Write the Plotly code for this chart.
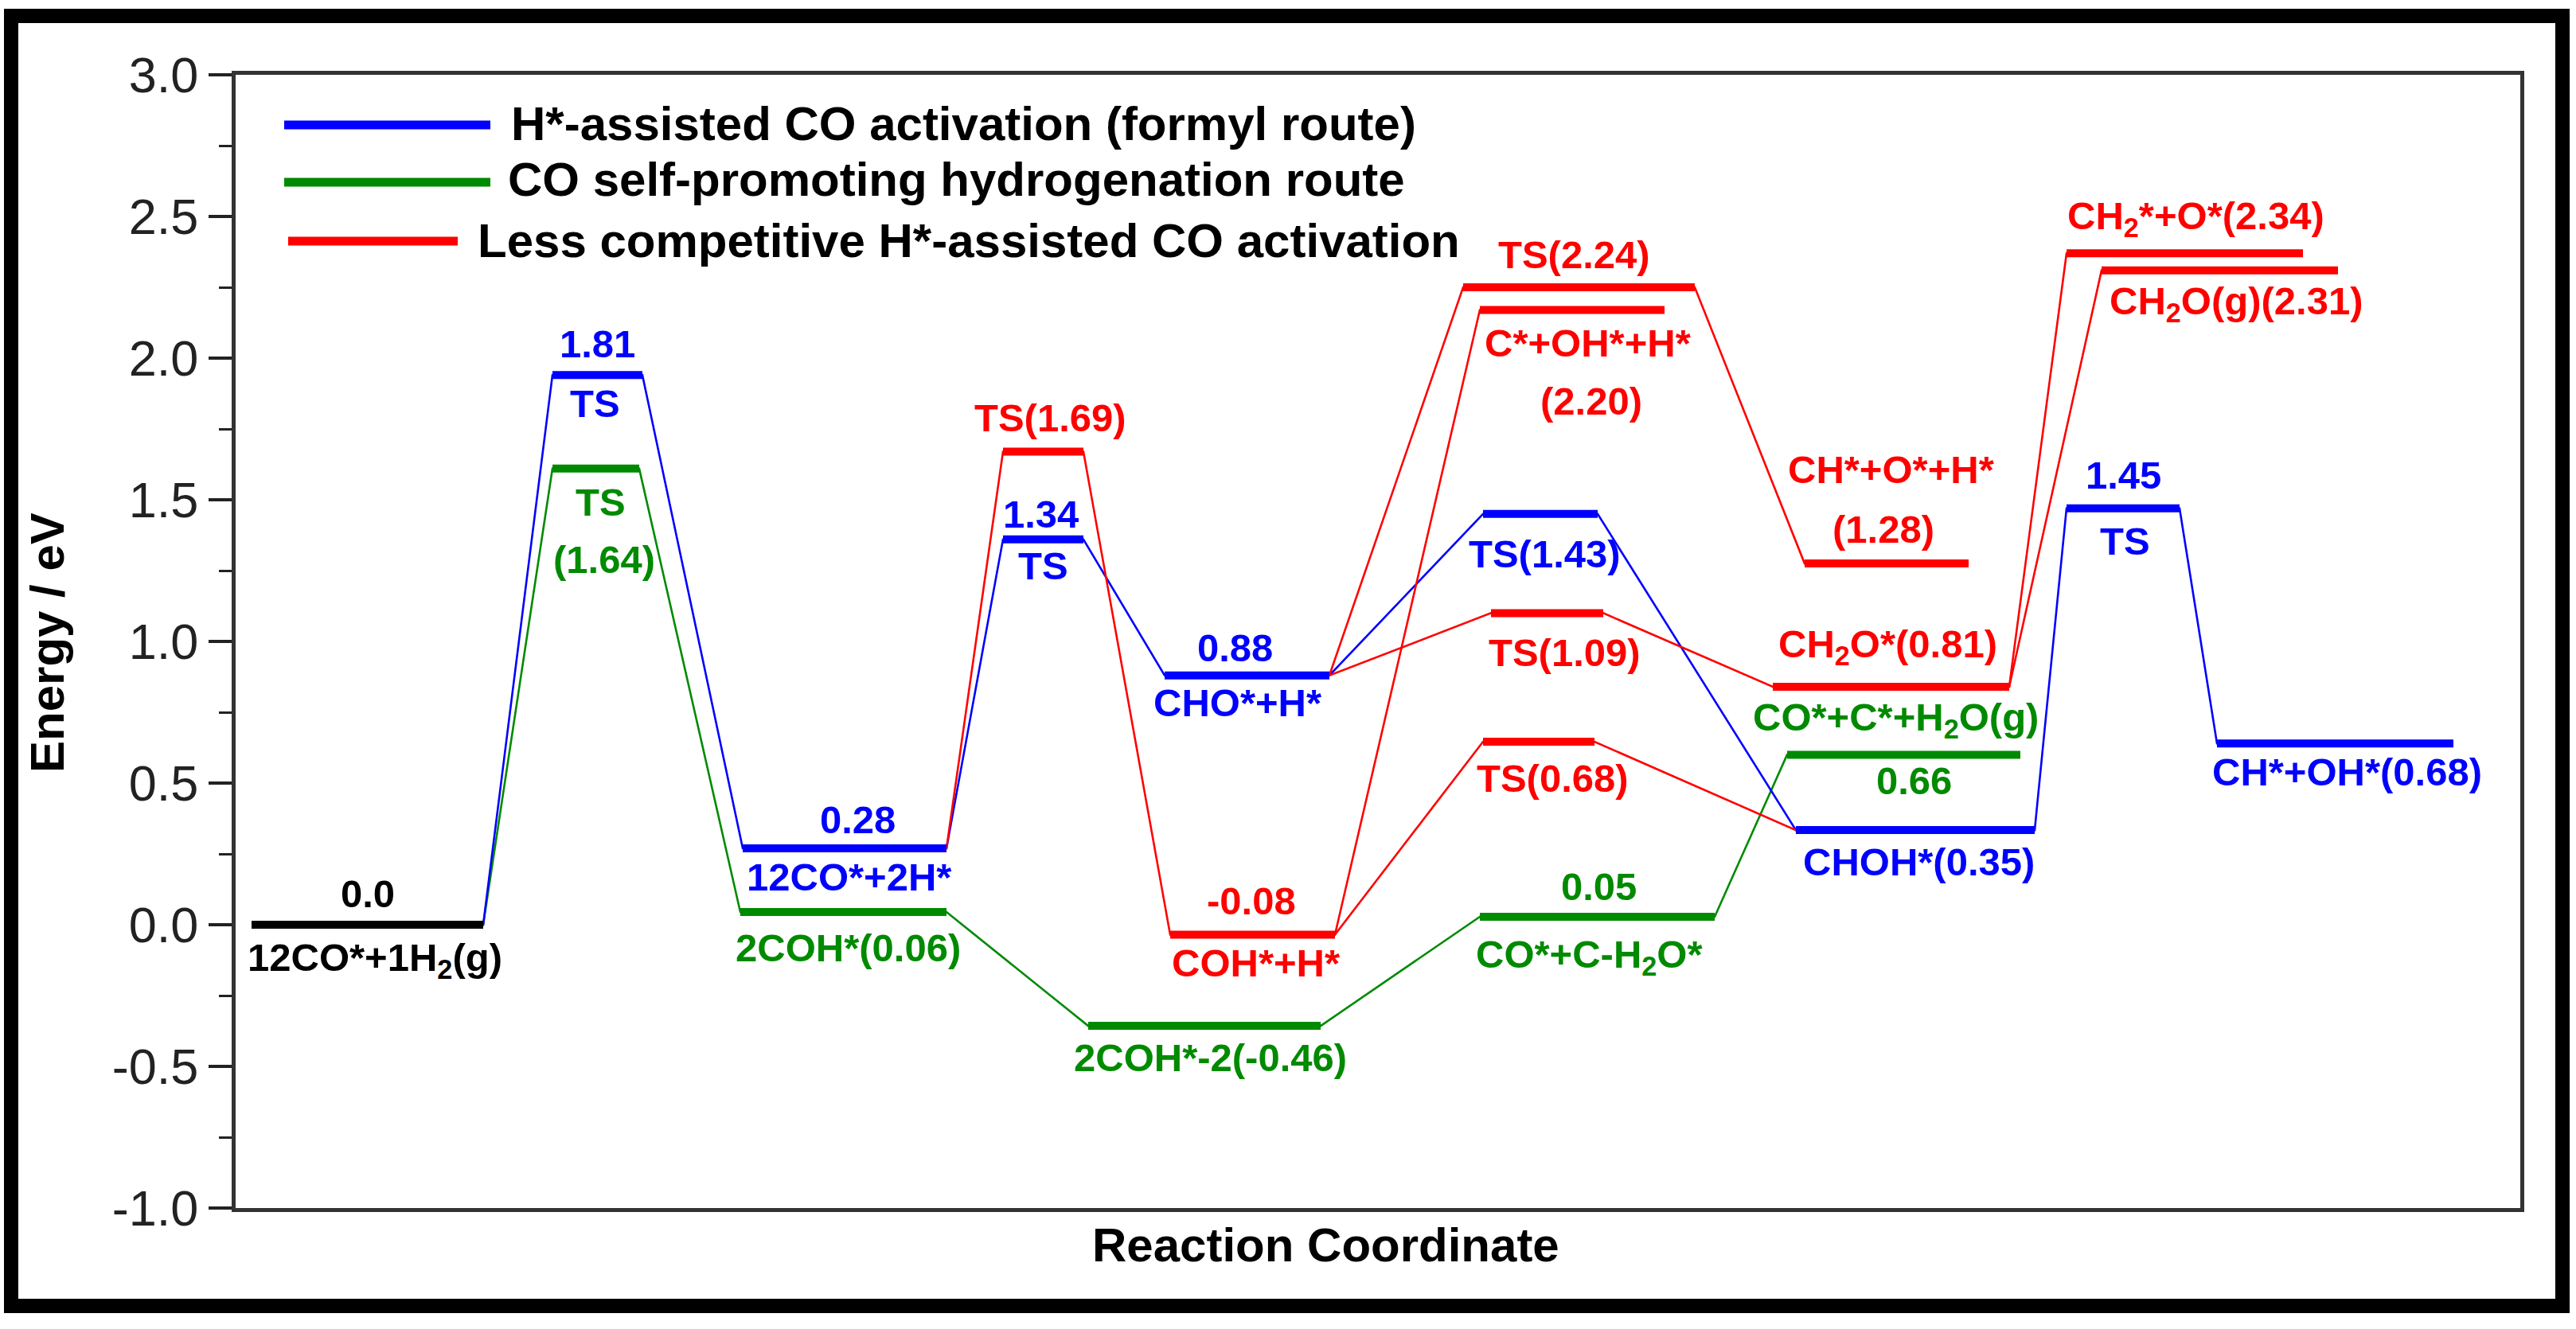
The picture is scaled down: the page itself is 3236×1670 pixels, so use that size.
import plotly.graph_objects as go

# ---------------- data ----------------
# energy levels: id, route colour, start / end along the reaction coordinate, drawn energy (eV)
level_ids = ["IS", "b_TS1", "g_TS1", "b_S1", "g_S1", "b_TS2", "r_TS169", "b_CHO", "r_COH",
             "g_COH2", "b_TS143", "r_TS109", "r_TS068", "r_TS224", "r_COHH", "g_COCH2O",
             "r_CHOH", "r_CH2Oads", "g_COCH2Og", "b_CHOH", "b_TS3", "r_CH2O", "r_CH2Og", "b_CHOH_end"]
level_route = ["black", "blue", "green", "blue", "green", "blue", "red", "blue", "red",
               "green", "blue", "red", "red", "red", "red", "green",
               "red", "red", "green", "blue", "blue", "red", "red", "blue"]
level_start = [0.20, 3.98, 3.98, 6.37, 6.34, 9.64, 9.64, 11.67, 11.74,
               10.71, 15.67, 15.77, 15.67, 15.42, 15.63, 15.63,
               19.71, 19.31, 19.49, 19.60, 23.00, 23.00, 23.44, 24.89]
level_end = [3.11, 5.11, 5.07, 8.93, 8.93, 10.65, 10.65, 13.74, 13.81,
             13.63, 17.11, 17.18, 17.07, 18.33, 17.95, 18.58,
             21.77, 22.28, 22.42, 22.60, 24.42, 25.97, 26.41, 27.86]
level_energy = [0.00, 1.94, 1.61, 0.27, 0.045, 1.36, 1.67, 0.88, -0.035,
                -0.357, 1.45, 1.10, 0.646, 2.25, 2.17, 0.028,
                1.275, 0.84, 0.60, 0.334, 1.47, 2.37, 2.31, 0.64]

# reaction paths (sequences of levels joined by thin connectors)
blue_path = ["IS", "b_TS1", "b_S1", "b_TS2", "b_CHO", "b_TS143", "b_CHOH", "b_TS3", "b_CHOH_end"]
green_path = ["IS", "g_TS1", "g_S1", "g_COH2", "g_COCH2O", "g_COCH2Og"]
red_paths = [["b_S1", "r_TS169", "r_COH", "r_COHH"],
             ["b_CHO", "r_TS224", "r_CHOH"],
             ["b_CHO", "r_TS109", "r_CH2Oads", "r_CH2O"],
             ["r_CH2Oads", "r_CH2Og"],
             ["r_COH", "r_TS068", "b_CHOH"]]

# level annotations: level id and text
label_level = ["IS", "IS", "b_TS1", "b_TS1", "g_TS1", "g_TS1", "b_S1", "b_S1", "g_S1",
               "b_TS2", "b_TS2", "r_TS169", "b_CHO", "b_CHO", "r_COH", "r_COH", "g_COH2",
               "b_TS143", "r_TS109", "r_TS068", "g_COCH2O", "g_COCH2O", "r_TS224",
               "r_COHH", "r_COHH", "r_CHOH", "r_CHOH", "r_CH2Oads", "g_COCH2Og", "g_COCH2Og",
               "b_CHOH", "b_TS3", "b_TS3", "b_CHOH_end", "r_CH2O", "r_CH2Og"]
label_text = ["0.0", "12CO*+1H<sub>2</sub>(g)", "1.81", "TS", "TS", "(1.64)", "0.28", "12CO*+2H*",
              "2COH*(0.06)", "1.34", "TS", "TS(1.69)", "0.88", "CHO*+H*", "-0.08", "COH*+H*",
              "2COH*-2(-0.46)", "TS(1.43)", "TS(1.09)", "TS(0.68)", "0.05", "CO*+C-H<sub>2</sub>O*",
              "TS(2.24)", "C*+OH*+H*", "(2.20)", "CH*+O*+H*", "(1.28)", "CH<sub>2</sub>O*(0.81)",
              "CO*+C*+H<sub>2</sub>O(g)", "0.66", "CHOH*(0.35)", "1.45", "TS", "CH*+OH*(0.68)",
              "CH<sub>2</sub>*+O*(2.34)", "CH<sub>2</sub>O(g)(2.31)"]
# label offsets from the level centre in pixels (layout only)
label_dy = [39, -44, 39, -36, -42, -114, 36, -36, -45, 32, -33, 42, 35, -34, 42, -36, -40,
            -50, -50, -46, 38, -50, 41, -42, -115, 118, 43, 50, 44, -33, -40, 42, -41, -36, 44, -42]
label_dx = [0, 9, 0, -3, 6, 10, 16, 6, 6, -3, 0, 9, -15, -12, -2, 4, 7,
            5, 22, 17, 2, -10, -6, 20, 24, 6, -4, -4, -10, 13, 4, 0, 2, 15, 14, 21]

route_colors = {"black": "#000000", "blue": "#0000FF", "green": "#008A00", "red": "#FF0000"}

legend_names = ["H*-assisted CO activation (formyl route)",
                "CO self-promoting hydrogenation route",
                "Less competitive H*-assisted CO activation"]
legend_routes = ["blue", "green", "red"]

y_tick_vals = [-1.0, -0.5, 0.0, 0.5, 1.0, 1.5, 2.0, 2.5, 3.0]
y_tick_text = ["-1.0", "-0.5", "0.0", "0.5", "1.0", "1.5", "2.0", "2.5", "3.0"]

# ---------------- figure ----------------
W, H = 3236, 1670
ML, MR, MT, MB = 296, 70, 94, 152
PW, PH = W - ML - MR, H - MT - MB
FONT = "Liberation Sans, Arial, Helvetica, sans-serif"

idx = {k: i for i, k in enumerate(level_ids)}


def px_to_paper_x(p):
    return (p - ML) / PW


def px_to_paper_y(p):
    return (H - MB - p) / PH


fig = go.Figure()


def add_path(path, color):
    xs, ys = [], []
    for k in path:
        i = idx[k]
        xs += [level_start[i], level_end[i]]
        ys += [level_energy[i], level_energy[i]]
    fig.add_trace(go.Scatter(x=xs, y=ys, mode="lines", line=dict(color=color, width=2.6),
                             hoverinfo="skip", showlegend=False))


add_path(green_path, route_colors["green"])
add_path(blue_path, route_colors["blue"])
for p in red_paths:
    add_path(p, route_colors["red"])

# thick levels, one trace per route
for route in ["green", "red", "blue", "black"]:
    xs, ys = [], []
    for i, r in enumerate(level_route):
        if r == route:
            xs += [level_start[i], level_end[i], None]
            ys += [level_energy[i], level_energy[i], None]
    fig.add_trace(go.Scatter(x=xs, y=ys, mode="lines", line=dict(color=route_colors[route], width=10),
                             hoverinfo="skip", showlegend=False))

# level labels
annotations = []
for lv, txt, dy, dx in zip(label_level, label_text, label_dy, label_dx):
    i = idx[lv]
    annotations.append(dict(
        x=(level_start[i] + level_end[i]) / 2, y=level_energy[i], xref="x", yref="y",
        text="<b>" + txt + "</b>", showarrow=False, xanchor="center", yanchor="middle",
        xshift=dx, yshift=dy,
        font=dict(family=FONT, size=49, color=route_colors[level_route[i]])))

# legend (drawn manually)
legend_key_px = [(357, 616, 157), (357, 616, 229), (362, 575, 303)]
legend_text_px = [(640, 155), (636, 226), (598, 302)]
shapes = []
for (x0, x1, yk), (tx, ty), name, route in zip(legend_key_px, legend_text_px, legend_names, legend_routes):
    shapes.append(dict(type="line", xref="paper", yref="paper",
                       x0=px_to_paper_x(x0), x1=px_to_paper_x(x1),
                       y0=px_to_paper_y(yk), y1=px_to_paper_y(yk),
                       line=dict(color=route_colors[route], width=11)))
    annotations.append(dict(x=px_to_paper_x(tx), y=px_to_paper_y(ty), xref="paper", yref="paper",
                            text="<b>" + name + "</b>", showarrow=False, xanchor="left", yanchor="middle",
                            font=dict(family=FONT, size=60, color="#000000")))

# axis titles
annotations.append(dict(x=px_to_paper_x(60), y=px_to_paper_y(808), xref="paper", yref="paper",
                        text="<b>Energy / eV</b>", textangle=-90, showarrow=False,
                        xanchor="center", yanchor="middle",
                        font=dict(family=FONT, size=60, color="#000000")))
annotations.append(dict(x=px_to_paper_x(1665), y=px_to_paper_y(1565), xref="paper", yref="paper",
                        text="<b>Reaction Coordinate</b>", showarrow=False,
                        xanchor="center", yanchor="middle",
                        font=dict(family=FONT, size=60, color="#000000")))

# outer black frame
shapes.append(dict(type="rect", xref="paper", yref="paper",
                   x0=px_to_paper_x(14), x1=px_to_paper_x(3219),
                   y0=px_to_paper_y(1641), y1=px_to_paper_y(20),
                   line=dict(color="#000000", width=18), fillcolor="rgba(0,0,0,0)", layer="above"))

fig.update_layout(
    width=W, height=H, autosize=False,
    margin=dict(l=ML, r=MR, t=MT, b=MB, pad=0),
    paper_bgcolor="white", plot_bgcolor="white",
    showlegend=False,
    annotations=annotations, shapes=shapes,
    xaxis=dict(range=[0, PW / 100], showgrid=False, zeroline=False, showticklabels=False,
               ticks="", showline=True, mirror=True, linecolor="#333333", linewidth=5),
    yaxis=dict(range=[-1.0, 3.0], tickvals=y_tick_vals, ticktext=y_tick_text,
               showgrid=False, zeroline=False, ticks="outside", ticklen=29, tickwidth=4,
               tickcolor="#222222", showline=True, mirror=True, linecolor="#333333", linewidth=5,
               tickfont=dict(family=FONT, size=63, color="#222222"),
               minor=dict(dtick=0.25, ticks="outside", ticklen=16, tickwidth=3, tickcolor="#222222")),
)

fig.write_html("out.html", config={"displayModeBar": False},
               post_script="document.body.style.margin='0';")
